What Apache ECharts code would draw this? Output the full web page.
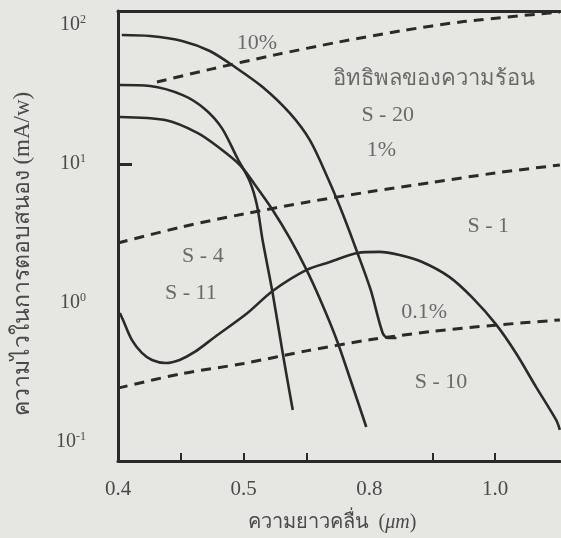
<!DOCTYPE html>
<html>
<head>
<meta charset="utf-8">
<script src="https://cdn.jsdelivr.net/npm/echarts@6/dist/echarts.min.js"></script>
<style>
html,body{margin:0;padding:0;background:#e6e6e3;}
#chart{width:561px;height:538px;}
</style>
</head>
<body>
<div id="chart"></div>
<script>
// ---- Data (wavelength in µm, responsivity in mA/W) ----
const s20X = [0.406, 0.451, 0.502, 0.546, 0.586, 0.630, 0.673, 0.705, 0.733, 0.757, 0.781, 0.802, 0.821, 0.829, 0.843];
const s20Y = [84.8, 83.4, 76.8, 65.0, 49.9, 35.8, 23.3, 14.9, 8.06, 4.44, 2.29, 1.24, 0.608, 0.560, 0.560];

const s11X = [0.403, 0.451, 0.503, 0.538, 0.565, 0.590, 0.610, 0.621, 0.630, 0.646, 0.662, 0.678];
const s11Y = [37.0, 36.4, 31.3, 24.9, 18.2, 11.0, 7.43, 5.07, 2.84, 1.18, 0.436, 0.170];

const s4X = [0.403, 0.475, 0.527, 0.562, 0.594, 0.617, 0.646, 0.673, 0.700, 0.724, 0.748, 0.771, 0.795];
const s4Y = [21.8, 20.7, 16.7, 13.0, 9.84, 7.18, 4.67, 2.94, 1.73, 1.00, 0.542, 0.270, 0.128];

const s1X = [0.403, 0.408, 0.422, 0.438, 0.454, 0.476, 0.498, 0.522, 0.554, 0.606, 0.646, 0.700, 0.737, 0.781, 0.816, 0.848, 0.884, 0.927, 0.963, 1.002, 1.033, 1.065, 1.097, 1.103];
const s1Y = [0.847, 0.755, 0.542, 0.437, 0.389, 0.370, 0.389, 0.444, 0.569, 0.847, 1.22, 1.73, 1.97, 2.29, 2.33, 2.21, 1.97, 1.54, 1.10, 0.695, 0.436, 0.249, 0.144, 0.122];

const qe10X = [0.462, 0.550, 0.650, 0.750, 0.850, 0.950, 1.103];
const qe10Y = [38.9, 48.4, 61.0, 75.3, 90.8, 105.9, 124];

const qe1X = [0.400, 0.500, 0.600, 0.700, 0.800, 0.900, 1.000, 1.103];
const qe1Y = [2.70, 3.51, 4.37, 5.31, 6.31, 7.38, 8.61, 9.84];

const qe01X = [0.400, 0.500, 0.600, 0.700, 0.800, 0.900, 1.000, 1.103];
const qe01Y = [0.244, 0.309, 0.367, 0.452, 0.543, 0.624, 0.692, 0.755];

// Annotation texts and their data positions
const annoText = ['10%', 'อิทธิพลของความร้อน', 'S - 20', '1%', 'S - 1', 'S - 4', 'S - 11', '0.1%', 'S - 10'];
const annoX = [0.621, 0.903, 0.829, 0.819, 0.989, 0.535, 0.516, 0.887, 0.914];
const annoY = [74.3, 40.5, 22.5, 12.6, 3.55, 2.18, 1.18, 0.861, 0.270];

// Axis tick labels
const xTickValues = [0.4, 0.6, 0.8, 1.0];
const xTickLabels = ['0.4', '0.5', '0.8', '1.0'];
const xMinorTicks = [0.5, 0.6, 0.7, 0.9, 1.0];
const yTickValues = [0.1, 1, 10, 100];
const yTickLabels = ['-1', '0', '1', '2'];

const xMin = 0.4, xMax = 1.103;
const yMin = 0.0729, yMax = 126.2;

const zip = (xs, ys) => xs.map((x, i) => [x, ys[i]]);
const INK = '#2a2a2a';
const TXT = '#4a4a4a';
const SERIF = "'Liberation Serif','DejaVu Serif',serif";

function solid(name, xs, ys) {
  return { name, type: 'line', data: zip(xs, ys), smooth: 0.3, symbol: 'none',
    lineStyle: { color: INK, width: 2.6 }, z: 3 };
}
function dashed(name, xs, ys) {
  return { name, type: 'line', data: zip(xs, ys), smooth: 0.3, symbol: 'none',
    lineStyle: { color: INK, width: 3, type: [10, 7] }, z: 2 };
}

const chart = echarts.init(document.getElementById('chart'), null, { renderer: 'canvas' });
chart.setOption({
  backgroundColor: '#e6e6e3',
  animation: false,
  grid: { left: 118, right: 0, top: 11, bottom: 77 },
  xAxis: [{
    type: 'value', min: xMin, max: xMax, interval: 0.1,
    name: 'ความยาวคลื่น  ({it|μm})', nameLocation: 'middle', nameGap: 52,
    nameTextStyle: { color: TXT, fontSize: 20, fontFamily: SERIF, padding: [0, 14, 0, 0],
      rich: { it: { fontStyle: 'italic', fontSize: 20, fontFamily: SERIF, color: TXT } } },
    axisLine: { show: true, lineStyle: { color: INK, width: 3 } },
    axisTick: { show: true, inside: true, length: 8, lineStyle: { color: INK, width: 2 }, customValues: xMinorTicks },
    splitLine: { show: false },
    axisLabel: {
      color: TXT, fontSize: 21, fontFamily: SERIF, margin: 18, showMinLabel: true, showMaxLabel: false,
      formatter: v => { const i = xTickValues.findIndex(t => Math.abs(t - v) < 1e-6); return i >= 0 ? xTickLabels[i] : ''; }
    }
  }, {
    type: 'value', position: 'top', min: xMin, max: xMax,
    axisLine: { show: true, lineStyle: { color: INK, width: 3 } },
    axisTick: { show: false }, axisLabel: { show: false }, splitLine: { show: false }
  }],
  yAxis: {
    type: 'log', logBase: 10, min: yMin, max: yMax,
    name: 'ความไวในการตอบสนอง (mA/w)', nameLocation: 'middle', nameGap: 84, nameRotate: 90,
    nameTextStyle: { color: TXT, fontSize: 23, fontFamily: SERIF, padding: [0, 36, 0, 0] },
    axisLine: { show: true, lineStyle: { color: INK, width: 3 } },
    axisTick: { show: true, inside: true, length: 14, lineStyle: { color: INK, width: 3 }, customValues: [10] },
    splitLine: { show: false },
    axisLabel: {
      color: TXT, fontSize: 20, fontFamily: SERIF, margin: 32,
      formatter: v => { const i = yTickValues.findIndex(t => Math.abs(Math.log10(t) - Math.log10(v)) < 1e-6); return i >= 0 ? '10{sup|' + yTickLabels[i] + '}' : ''; },
      rich: { sup: { fontSize: 12, fontFamily: SERIF, color: TXT, verticalAlign: 'bottom', padding: [0, 0, 10, 0] } }
    }
  },
  series: [
    solid('S-20', s20X, s20Y),
    solid('S-11', s11X, s11Y),
    solid('S-4', s4X, s4Y),
    solid('S-1', s1X, s1Y),
    dashed('10%', qe10X, qe10Y),
    dashed('1%', qe1X, qe1Y),
    dashed('0.1%', qe01X, qe01Y),
    {
      name: 'labels', type: 'scatter', symbolSize: 0, silent: true, z: 5,
      data: annoText.map((t, i) => ({ name: t, value: [annoX[i], annoY[i]] })),
      label: { show: true, position: 'inside', formatter: p => p.name, color: TXT, fontSize: 22, fontFamily: SERIF }
    }
  ]
});
</script>
</body>
</html>
